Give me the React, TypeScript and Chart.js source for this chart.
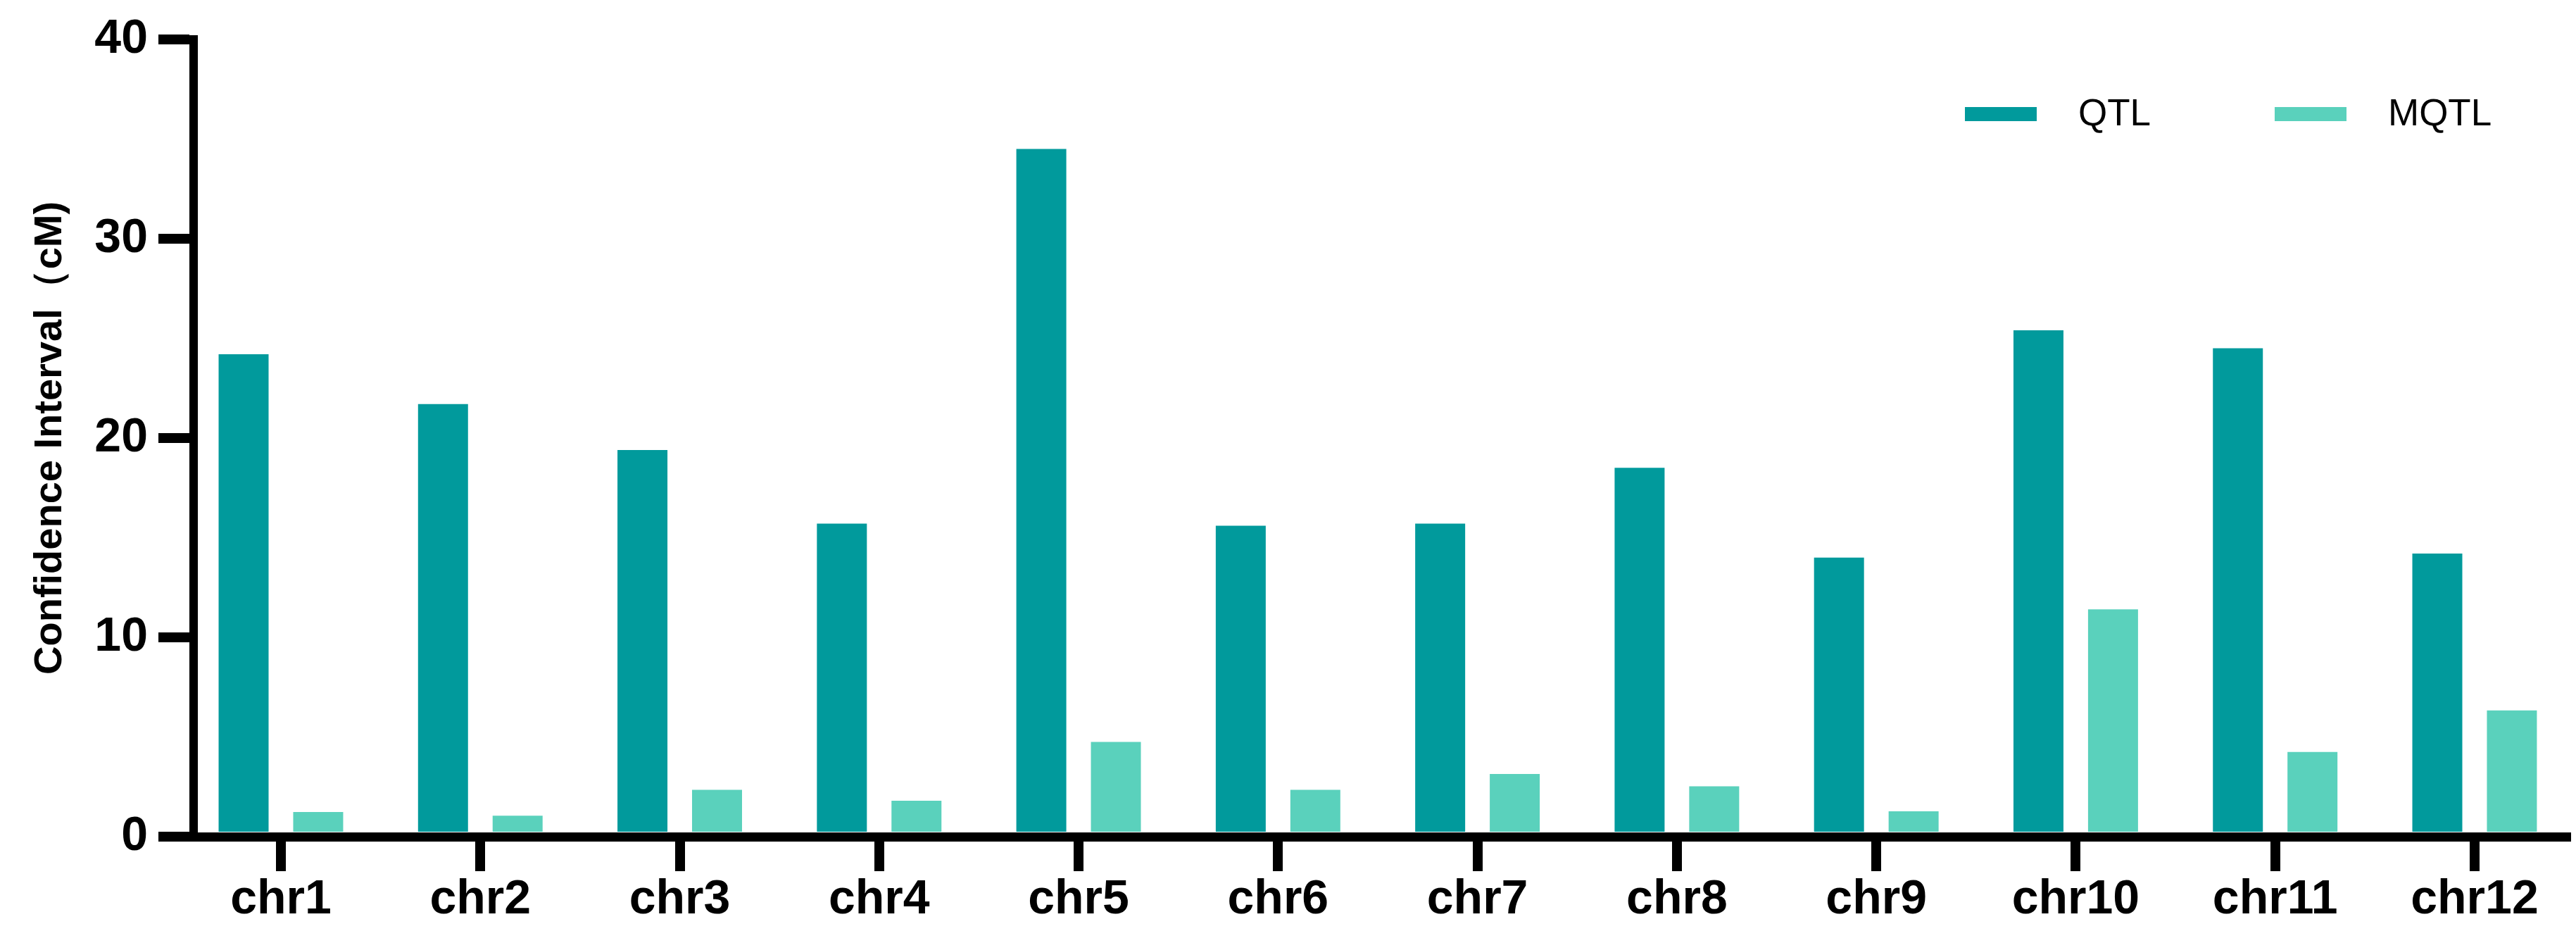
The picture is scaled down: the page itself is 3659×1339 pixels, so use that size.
import React, { useEffect, useRef } from 'react';
import { Chart, registerables } from 'chart.js';

Chart.register(...registerables);

const categories = ['chr1', 'chr2', 'chr3', 'chr4', 'chr5', 'chr6', 'chr7', 'chr8', 'chr9', 'chr10', 'chr11', 'chr12'];
const qtlValues = [24.2, 21.7, 19.4, 15.7, 34.5, 15.6, 15.7, 18.5, 14.0, 25.4, 24.5, 14.2];
const mqtlValues = [1.24, 1.05, 2.35, 1.8, 4.75, 2.35, 3.14, 2.53, 1.27, 11.4, 4.25, 6.33];
const seriesLabels = ['QTL', 'MQTL'];
const seriesColors = ['#019A9C', '#5AD1BC'];
const yTicks = [0, 10, 20, 30, 40];
const yAxisTitle = 'Confidence Interval（cM)';

const FONT = '"Liberation Sans", Arial, Helvetica, sans-serif';

const legendPlugin = {
  id: 'customLegend',
  afterDraw(chart: any) {
    const { ctx, chartArea } = chart;
    const right = chartArea.right;
    const items = [
      { boxX: right - 854, textX: right - 693 },
      { boxX: right - 414, textX: right - 253 },
    ];
    const cy = 162;
    ctx.save();
    chart.data.datasets.forEach((ds: any, i: number) => {
      const it = items[i];
      if (!it) return;
      ctx.fillStyle = ds.backgroundColor;
      ctx.fillRect(it.boxX, cy - 10, 102, 20);
      ctx.fillStyle = '#000';
      ctx.font = `53px ${FONT}`;
      ctx.textBaseline = 'middle';
      ctx.textAlign = 'left';
      ctx.fillText(ds.label, it.textX, cy + 1);
    });
    ctx.restore();
  },
};

export default function App() {
  const canvasRef = useRef<HTMLCanvasElement | null>(null);

  useEffect(() => {
    const canvas = canvasRef.current;
    if (!canvas) return;
    Chart.defaults.font.family = FONT;
    const chart = new Chart(canvas, {
      type: 'bar',
      data: {
        datasets: [
          {
            label: seriesLabels[0],
            data: qtlValues.map((v, i) => ({ x: i, y: v })),
            backgroundColor: seriesColors[0],
            categoryPercentage: 0.748,
            barPercentage: 0.67,
          },
          {
            label: seriesLabels[1],
            data: mqtlValues.map((v, i) => ({ x: i, y: v })),
            backgroundColor: seriesColors[1],
            categoryPercentage: 0.748,
            barPercentage: 0.67,
          },
        ],
      },
      options: {
        responsive: false,
        animation: false,
        devicePixelRatio: 1,
        layout: { padding: { top: 54, right: 14, left: 0, bottom: 0 } },
        plugins: {
          legend: { display: false },
          tooltip: { enabled: false },
        },
        scales: {
          x: {
            type: 'linear',
            offset: false,
            z: 1,
            min: -0.4377,
            max: 11.459,
            grid: {
              offset: false,
              drawOnChartArea: false,
              drawTicks: true,
              tickLength: 49,
              lineWidth: 14,
              color: '#000',
            },
            border: { display: true, width: 13, color: '#000' },
            ticks: {
              stepSize: 1,
              includeBounds: false,
              maxTicksLimit: 30,
              autoSkip: false,
              maxRotation: 0,
              minRotation: 0,
              padding: 0,
              color: '#000',
              font: { size: 68, weight: 'bold', family: FONT },
              callback: (value: any) => {
                const n = Number(value);
                return Number.isInteger(n) && categories[n] !== undefined ? categories[n] : '';
              },
            },
            afterFit: (scale: any) => {
              scale.height = 151;
            },
          },
          y: {
            type: 'linear',
            min: 0,
            max: 40,
            afterBuildTicks: (scale: any) => {
              scale.ticks = yTicks.map((v) => ({ value: v }));
            },
            grid: {
              drawOnChartArea: false,
              drawTicks: true,
              tickLength: 50,
              lineWidth: 14,
              color: '#000',
            },
            border: { display: true, width: 12, color: '#000' },
            ticks: {
              padding: 15,
              color: '#000',
              font: { size: 68, weight: 'bold', family: FONT },
            },
            title: {
              display: true,
              text: yAxisTitle,
              color: '#000',
              font: { size: 56, weight: 'bold', family: FONT },
              padding: { top: 38, bottom: 0 },
            },
            afterFit: (scale: any) => {
              scale.width = 275;
            },
          },
        },
      } as any,
      plugins: [legendPlugin],
    });
    return () => chart.destroy();
  }, []);

  return (
    <div style={{ position: 'absolute', left: 0, top: 0, width: 3659, height: 1339, background: '#fff' }}>
      <canvas ref={canvasRef} width={3659} height={1339} style={{ display: 'block' }} />
    </div>
  );
}
